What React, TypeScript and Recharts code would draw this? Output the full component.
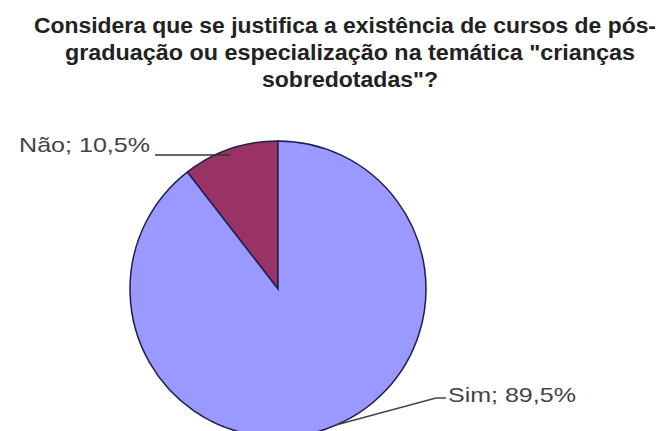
import React from "react";
import { PieChart, Pie, Cell } from "recharts";

const titleLines = [
  "Considera que se justifica a existência de cursos de pós-",
  "graduação ou especialização na temática \"crianças",
  "sobredotadas\"?",
];
const categories = ["Não", "Sim"];
const values = [10.5, 89.5];
const colors = ["#993366", "#9999FF"];

const data = categories.map((name, i) => ({ name, value: values[i] }));
const RAD = Math.PI / 180;
const fmt = (v: number) => v.toFixed(1).replace(".", ",") + "%";

const titleLayout = [
  { x: 34, y: 33, w: 622 },
  { x: 65, y: 60, w: 570 },
  { x: 262, y: 87, w: 176 },
];

const renderLabel = (props: any) => {
  const { cx, cy, midAngle, outerRadius, index, name, value } = props;
  const ex = cx + outerRadius * Math.cos(-midAngle * RAD);
  const ey = cy + outerRadius * Math.sin(-midAngle * RAD);
  const text = `${name}; ${fmt(value)}`;
  if (index === 0) {
    const lx = ex - 75;
    return (
      <g key={`l${index}`}>
        <path d={`M${ex},${ey + 6} L${lx},${ey + 6}`} stroke="#333" strokeWidth={1.6} fill="none" />
        <text x={lx - 136} y={ey + 3} textAnchor="start" fontFamily="Liberation Sans, Arial, sans-serif" fontSize={21} fill="#444" textLength={131} lengthAdjust="spacingAndGlyphs">
          {text}
        </text>
      </g>
    );
  }
  const mx = ex + 110;
  const my = ey - 31;
  return (
    <g key={`l${index}`}>
      <path d={`M${ex + 10},${ey - 4} L${mx},${my} L${mx + 10},${my}`} stroke="#444" strokeWidth={1.6} fill="none" />
      <text x={mx + 12} y={ey - 27} textAnchor="start" fontFamily="Liberation Sans, Arial, sans-serif" fontSize={21} fill="#444" textLength={128} lengthAdjust="spacingAndGlyphs">
        {text}
      </text>
    </g>
  );
};

export default function App() {
  return (
    <div style={{ position: "absolute", left: 0, top: 0, width: 670, height: 431, background: "#fff" }}>
      <div style={{ position: "absolute", left: 0, top: 0 }}>
        <PieChart width={670} height={431}>
          <Pie
            data={data}
            dataKey="value"
            nameKey="name"
            cx={273}
            cy={284}
            outerRadius={148}
            startAngle={90}
            endAngle={450}
            stroke="#1f1f4f"
            strokeWidth={1.5}
            label={renderLabel}
            labelLine={false}
            isAnimationActive={false}
          >
            {data.map((d, i) => (
              <Cell key={d.name} fill={colors[i]} />
            ))}
          </Pie>
        </PieChart>
      </div>
      <svg width={670} height={100} style={{ position: "absolute", left: 0, top: 0 }}>
        {titleLines.map((t, i) => (
          <text
            key={i}
            x={titleLayout[i].x}
            y={titleLayout[i].y}
            textAnchor="start"
            fontFamily="Liberation Sans, Arial, sans-serif"
            fontWeight="bold"
            fontSize={22}
            fill="#222"
            textLength={titleLayout[i].w}
            lengthAdjust="spacingAndGlyphs"
          >
            {t}
          </text>
        ))}
      </svg>
    </div>
  );
}
